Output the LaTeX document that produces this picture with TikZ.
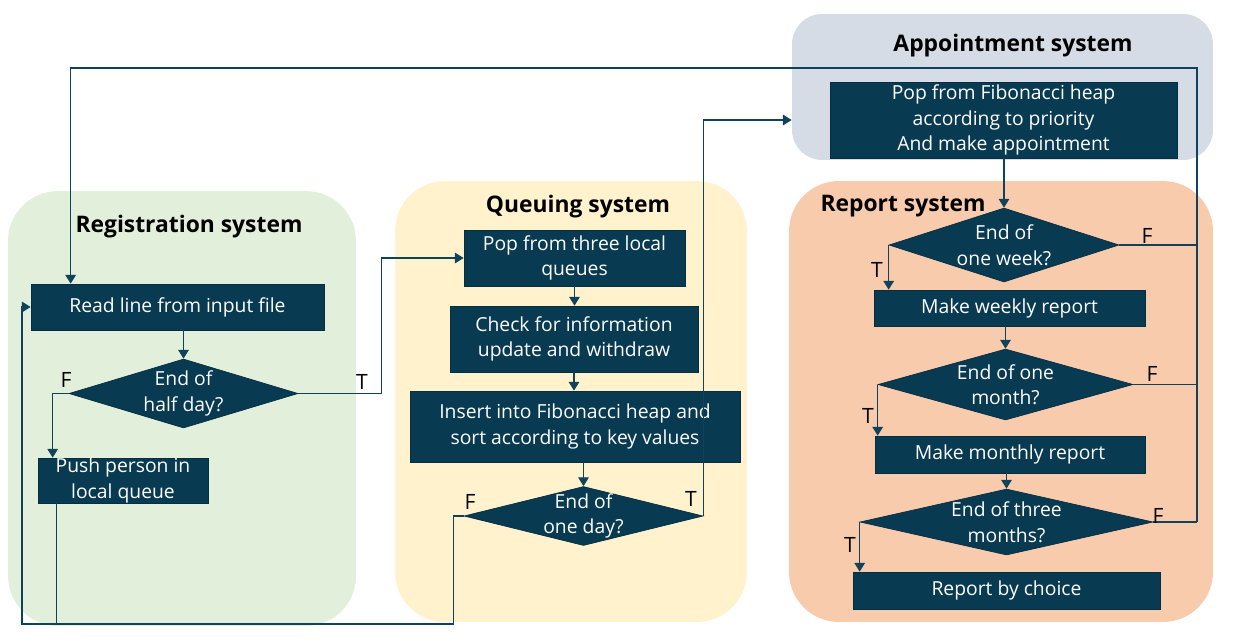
\documentclass[tikz,border=0pt]{standalone}
\usepackage{fontspec}
\setmainfont{Open Sans}
\usetikzlibrary{arrows.meta,shapes.geometric}
\definecolor{boxcol}{RGB}{8,58,82}
\definecolor{linecol}{RGB}{16,66,92}
\definecolor{regfill}{RGB}{226,239,218}
\definecolor{quefill}{RGB}{255,242,204}
\definecolor{appfill}{RGB}{214,220,229}
\definecolor{repfill}{RGB}{248,203,173}
\begin{document}
\begin{tikzpicture}[x=0.02cm,y=-0.02cm,
    bg/.style={rounded corners=1cm,inner sep=0pt},
    title/.style={font=\fontsize{13}{16}\selectfont\bfseries},
    proc/.style={rectangle,fill=boxcol,draw=boxcol!80!black,text=white,align=center,inner sep=0pt,font=\fontsize{11}{14.5}\selectfont},
    decide/.style={diamond,fill=boxcol,draw=boxcol!80!black,inner sep=0pt},
    dtext/.style={text=white,align=center,font=\fontsize{11}{14.5}\selectfont},
    flow/.style={draw=linecol,line width=0.7pt,-{Triangle[length=5pt,width=6pt]}},
    link/.style={draw=linecol,line width=0.7pt},
    tf/.style={font=\fontsize{12}{14}\selectfont,inner sep=0pt}]
    \useasboundingbox (0,0) rectangle (1234,640);

    \node[bg,fill=regfill,minimum width=6.96cm,minimum height=8.7cm] (regbg) at (182,408.5) {};
    \node[bg,fill=quefill,minimum width=7.04cm,minimum height=8.82cm] (quebg) at (571,401.5) {};
    \node[bg,fill=appfill,rounded corners=.6cm,minimum width=8.42cm,minimum height=2.92cm] (appbg) at (1002.5,87) {};
    \node[bg,fill=repfill,minimum width=8.48cm,minimum height=8.82cm] (repbg) at (1001,401.5) {};

    \node[title] (regtitle) at (189,227) {Registration system};
    \node[title] (quetitle) at (578,207) {Queuing system};
    \node[title] (apptitle) at (1013,46) {Appointment system};
    \node[title] (reptitle) at (903,206) {Report system};

    \node[proc,minimum width=5.86cm,minimum height=0.92cm] (read) at (177.5,307) {Read line from input file};
    \node[decide,minimum width=4.58cm,minimum height=1.38cm,label={[dtext]center:End of\\half day?}] (half) at (183.5,393.5) {};
    \node[proc,minimum width=3.4cm,minimum height=0.9cm] (push) at (123,480.5) {Push person in\\local queue};

    \node[proc,minimum width=4.42cm,minimum height=1.12cm] (pop) at (574.5,258) {Pop from three local\\queues};
    \node[proc,minimum width=4.96cm,minimum height=1.32cm] (check) at (574,339) {Check for information\\update and withdraw};
    \node[proc,minimum width=6.6cm,minimum height=1.42cm] (insert) at (575,426.5) {Insert into Fibonacci heap and\\sort according to key values};
    \node[decide,minimum width=4.78cm,minimum height=1.18cm,label={[dtext]center:End of\\one day?}] (day) at (583.5,516) {};

    \node[proc,minimum width=6.94cm,minimum height=1.52cm] (heap) at (1003.5,120) {Pop from Fibonacci heap\\according to priority\\And make appointment};

    \node[decide,minimum width=4.6cm,minimum height=1.48cm,label={[dtext]center:End of\\one week?}] (week) at (1004,245) {};
    \node[proc,minimum width=5.42cm,minimum height=0.72cm] (weekly) at (1009.5,308) {Make weekly report};
    \node[decide,minimum width=5.1cm,minimum height=1.42cm,label={[dtext]center:End of one\\month?}] (month) at (1005.5,384.5) {};
    \node[proc,minimum width=5.4cm,minimum height=0.74cm] (monthly) at (1010,454.5) {Make monthly report};
    \node[decide,minimum width=5.86cm,minimum height=1.32cm,label={[dtext]center:End of three\\months?}] (three) at (1006.5,522) {};
    \node[proc,minimum width=6.14cm,minimum height=0.74cm] (choice) at (1006.5,590.5) {Report by choice};

    \coordinate (rtop) at (1197,68);
    \coordinate (loopbl) at (22,624);

    \draw[flow] (half.north |- read.south) -- (half.north);
    \draw[flow] (half.east) -- ++(83,0) |- (pop.west);
    \draw[flow] (half.west) -- ++(-16,0) coordinate (hf) -- (hf |- push.north);
    \draw[flow] ([xshift=.38cm]push.south west) |- (loopbl) |- (read.west);
    \draw[link] (day.west) -- ++(-10,0) |- ([xshift=.38cm]push.south west |- loopbl);

    \draw[flow] (pop.south) -- (pop.south |- check.north);
    \draw[flow] (check.south) -- (check.south |- insert.north);
    \draw[flow] (day.north |- insert.south) -- (day.north);
    \draw[flow] (day.east) |- (appbg.west |- heap);

    \draw[flow] (week.north |- heap.south) -- (week.north);
    \draw[flow] (week.west) -- (week.west |- weekly.north);
    \draw[flow] (month.north |- weekly.south) -- (month.north);
    \draw[flow] (month.west) -- (month.west |- monthly.north);
    \draw[flow] (three.north |- monthly.south) -- (three.north);
    \draw[flow] (three.west) -- (three.west |- choice.north);

    \draw[link] (week.east) -- (week.east -| rtop);
    \draw[link] (month.east) -- (month.east -| rtop);
    \draw[link] (three.east) -- (three.east -| rtop);
    \draw[flow] (three.east -| rtop) -- (rtop) -| ([xshift=.8cm]read.north west);

    \node[tf] (halfF) at (66,380) {F};
    \node[tf] (halfT) at (362,382) {T};
    \node[tf] (dayF) at (470,502) {F};
    \node[tf] (dayT) at (691,499) {T};
    \node[tf] (weekF) at (1147,236) {F};
    \node[tf] (weekT) at (877,270) {T};
    \node[tf] (monthF) at (1152,374) {F};
    \node[tf] (monthT) at (868,416) {T};
    \node[tf] (threeF) at (1158,516) {F};
    \node[tf] (threeT) at (850,545) {T};
\end{tikzpicture}
\end{document}
